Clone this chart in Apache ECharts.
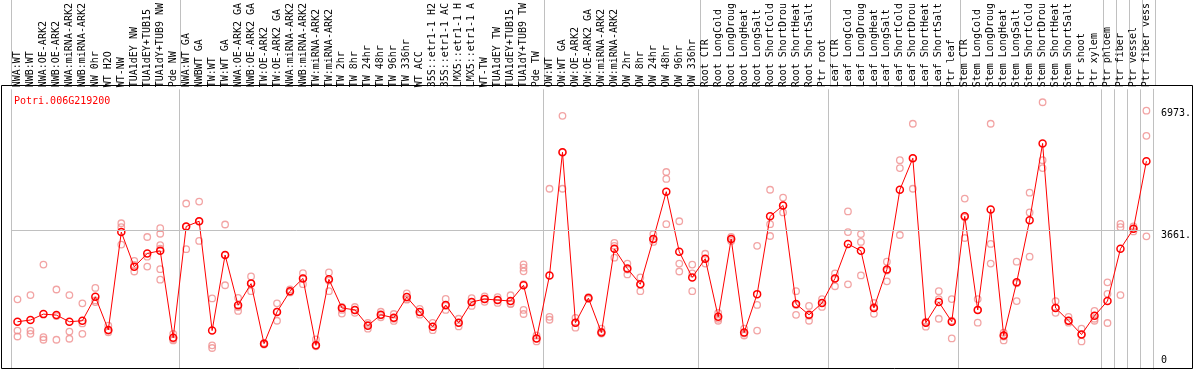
<!DOCTYPE html>
<html>
<head>
<meta charset="utf-8">
<script src="https://cdn.jsdelivr.net/npm/echarts@6/dist/echarts.min.js"></script>
<style>
html,body{margin:0;padding:0;background:#fff;}
#chart{width:1194px;height:370px;}
</style>
</head>
<body>
<div id="chart"></div>
<script>
const geneName = 'Potri.006G219200';

const categories = [
'NWA:WT','NWB:WT','NWA:OE-ARK2','NWB:OE-ARK2','NWA:miRNA-ARK2','NWB:miRNA-ARK2','NW 0hr','WT H2O','WT-NW','TUA1dEY NW',
'TUA1dEY+TUB15','TUA1dY+TUB9 NW','Pde NW','NWA:WT GA','NWBWT GA','TW:WT','TW:WT GA','NWA:OE-ARK2 GA','NWB:OE-ARK2 GA','TW:OE-ARK2',
'TW:OE-ARK2 GA','NWA:miRNA-ARK2','NWB:miRNA-ARK2','TW:miRNA-ARK2','TW:miRNA-ARK2','TW 2hr','TW 8hr','TW 24hr','TW 48hr','TW 96hr',
'TW 336hr','WT ACC','35S::etr1-1 H2','35S::etr1-1 AC','LMX5::etr1-1 H','LMX5::etr1-1 A','WT-TW','TUA1dEY TW','TUA1dEY+TUB15','TUA1dY+TUB9 TW',
'Pde TW','OW:WT','OW:WT GA','OW:OE-ARK2','OW:OE-ARK2 GA','OW:miRNA-ARK2','OW:miRNA-ARK2','OW 2hr','OW 8hr','OW 24hr',
'OW 48hr','OW 96hr','OW 336hr','Root CTR','Root LongCold','Root LongDroug','Root LongHeat','Root LongSalt','Root ShortCold','Root ShortDrou',
'Root ShortHeat','Root ShortSalt','Ptr root','Leaf CTR','Leaf LongCold','Leaf LongDroug','Leaf LongHeat','Leaf LongSalt','Leaf ShortCold','Leaf ShortDrou',
'Leaf ShortHeat','Leaf ShortSalt','Ptr leaf','Stem CTR','Stem LongCold','Stem LongDroug','Stem LongHeat','Stem LongSalt','Stem ShortCold','Stem ShortDrou',
'Stem ShortHeat','Stem ShortSalt','Ptr shoot','Ptr xylem','Ptr phloem','Ptr fiber','Ptr vessel','Ptr fiber vess'
];

// indices of the first category of each group (a gray separator is drawn before it)
const groupStarts = [0, 13, 41, 53, 63, 73, 84, 85, 86, 87];

const means = [
1179,1225,1386,1359,1179,1206,1857,957,3618,2672,
3037,3109,742,3771,3913,938,2994,1627,2216,582,
1447,2010,2358,536,2332,1554,1501,1072,1367,1286,
1849,1447,1045,1635,1152,1715,1796,1769,1742,2171,
724,2439,5789,1152,1822,884,3162,2626,2198,3430,
4717,3082,2385,2894,1313,3430,884,1930,4047,4342,
1662,1367,1688,2358,3296,3109,1554,2600,4770,5628,
1152,1715,1179,4047,1501,4234,804,2251,3940,6030,
1554,1206,831,1340,1742,3162,3706,5548
];

const replicates = [
[1788,938,777],[1903,938,850],[2734,759,689],[2056,1332,689],[1903,911,716],
[1680,1134,850],[2098,1760,1715],[1072,938,893],[3859,3752,3278],[2833,2726,2546],
[3484,2948,2680],[3725,3572,3262,3170,2608,2324],[850,706,670],[4395,3764,3154],[4449,3913,3377],
[1814,536,464],[3824,2994,2171],[1830,1577,1474],[2412,2232,2010],[600,585,560],
[1680,1455,1206],[2056,2000,1975],[2500,2360,2200],[697,536,509],[2520,2300,2010],
[1580,1500,1400],[1580,1500,1420],[1150,1100,990],[1450,1350,1300],[1390,1260,1200],
[1950,1800,1780],[1530,1440,1370],[1150,1045,950],[1800,1610,1500],[1260,1150,1050],
[1820,1715,1610],[1870,1800,1720],[1850,1770,1690],[1900,1670,1660],[2740,2650,2550,2200,1500,1390],
[804,724,643],[4797,1313,1233],[6780,5790,4797],[1286,1152,1018],[1850,1822,1795],
[992,911,858],[3323,3243,2921],[2760,2600,2466],[2385,2198,2010],[3564,3430,3350],
[5253,5065,3832],[3913,2760,2546],[2734,2492,2010],[3028,2894,2760],[1420,1260,1206],
[3484,3430,3377],[992,858,804],[3243,1635,938],[4770,3832,3511],[4556,4342,4154],
[2010,1635,1367],[1608,1340,1206],[1796,1688,1581],[2492,2358,2144],[4181,3618,2198],
[3564,3350,2439],[1688,1581,1394],[2814,2573,2278],[5574,5360,3538],[6566,5628,4797],
[1179,1152,1045],[2010,1796,1260],[1796,1206,724],[4529,4020,3457],[1796,1501,1152],
[6566,3296,2760],[884,777,670],[2814,2224,1742],[4690,4154,2948],[7150,5574,5360],
[1742,1554,1420],[1313,1206,1152],[992,831,643],[1474,1260,1206],[2251,1938,1144],
[3841,3752,1903],[3771,3706,3637],[6922,6236,3503]
];

const yTicks = [0, 3661, 6973];
const yMin = -107;
const yMax = 7503;

const MONO = 'DejaVu Sans Mono';
const GRAY = '#c0c0c0';

const scatterData = [];
replicates.forEach((arr, i) => arr.forEach(v => scatterData.push([i, v])));

const sepInterval = (idx) => groupStarts.indexOf(idx) >= 0;

const chart = echarts.init(document.getElementById('chart'), null, {renderer: 'canvas'});
chart.setOption({
  animation: false,
  backgroundColor: '#ffffff',
  title: {
    text: geneName, left: 9, top: 91,
    textStyle: {fontFamily: MONO, fontSize: 10, fontWeight: 'normal', color: '#ff0000'}
  },
  grid: [
    {left: 11, width: 1144, top: 85, bottom: 1},
    {left: 11, width: 1144, top: 0, height: 85}
  ],
  xAxis: [
    {
      type: 'category', gridIndex: 0, position: 'top', data: categories, boundaryGap: true,
      axisLine: {show: false}, axisTick: {show: false},
      axisLabel: {interval: 0, rotate: 90, margin: 2, fontFamily: MONO, fontSize: 10, color: '#000'},
      splitLine: {show: true, interval: sepInterval, lineStyle: {color: GRAY, width: 1}}
    },
    {
      type: 'category', gridIndex: 1, data: categories, boundaryGap: true,
      axisLine: {show: false}, axisTick: {show: false}, axisLabel: {show: false},
      splitLine: {show: true, interval: sepInterval, lineStyle: {color: GRAY, width: 1}}
    }
  ],
  yAxis: [
    {
      type: 'value', gridIndex: 0, position: 'right', min: yMin, max: yMax,
      axisLine: {show: true, lineStyle: {color: GRAY}}, axisTick: {show: false},
      splitLine: {show: false},
      axisLabel: {
        customValues: yTicks,
        formatter: v => (v === 0 ? '0' : v + '.'),
        verticalAlign: 'top', verticalAlignMinLabel: 'bottom',
        margin: 8, fontFamily: MONO, fontSize: 10, color: '#000'
      }
    },
    {
      type: 'value', gridIndex: 1, position: 'right',
      axisLine: {show: true, lineStyle: {color: GRAY}}, axisTick: {show: false},
      axisLabel: {show: false}, splitLine: {show: false}
    }
  ],
  series: [
    {
      type: 'scatter', xAxisIndex: 0, yAxisIndex: 0, data: scatterData,
      symbol: 'circle', symbolSize: 6.5,
      itemStyle: {color: 'rgba(255,255,255,0)', borderColor: '#ef8d8d', borderWidth: 1.3},
      markLine: {
        silent: true, symbol: 'none', label: {show: false},
        lineStyle: {color: GRAY, type: 'solid', width: 1},
        data: [{yAxis: yTicks[1]}]
      },
      z: 2
    },
    {
      type: 'line', xAxisIndex: 0, yAxisIndex: 0, data: means,
      symbol: 'circle', symbolSize: 7, showAllSymbol: true,
      itemStyle: {color: 'rgba(255,255,255,0)', borderColor: '#ff0000', borderWidth: 1.5},
      lineStyle: {color: '#ff0000', width: 1},
      z: 3
    }
  ],
  graphic: [
    {type: 'rect', shape: {x: 1.5, y: 85.5, width: 1191, height: 283}, style: {fill: 'none', stroke: '#000', lineWidth: 1}, z: 10, silent: true}
  ]
});
</script>
</body>
</html>
